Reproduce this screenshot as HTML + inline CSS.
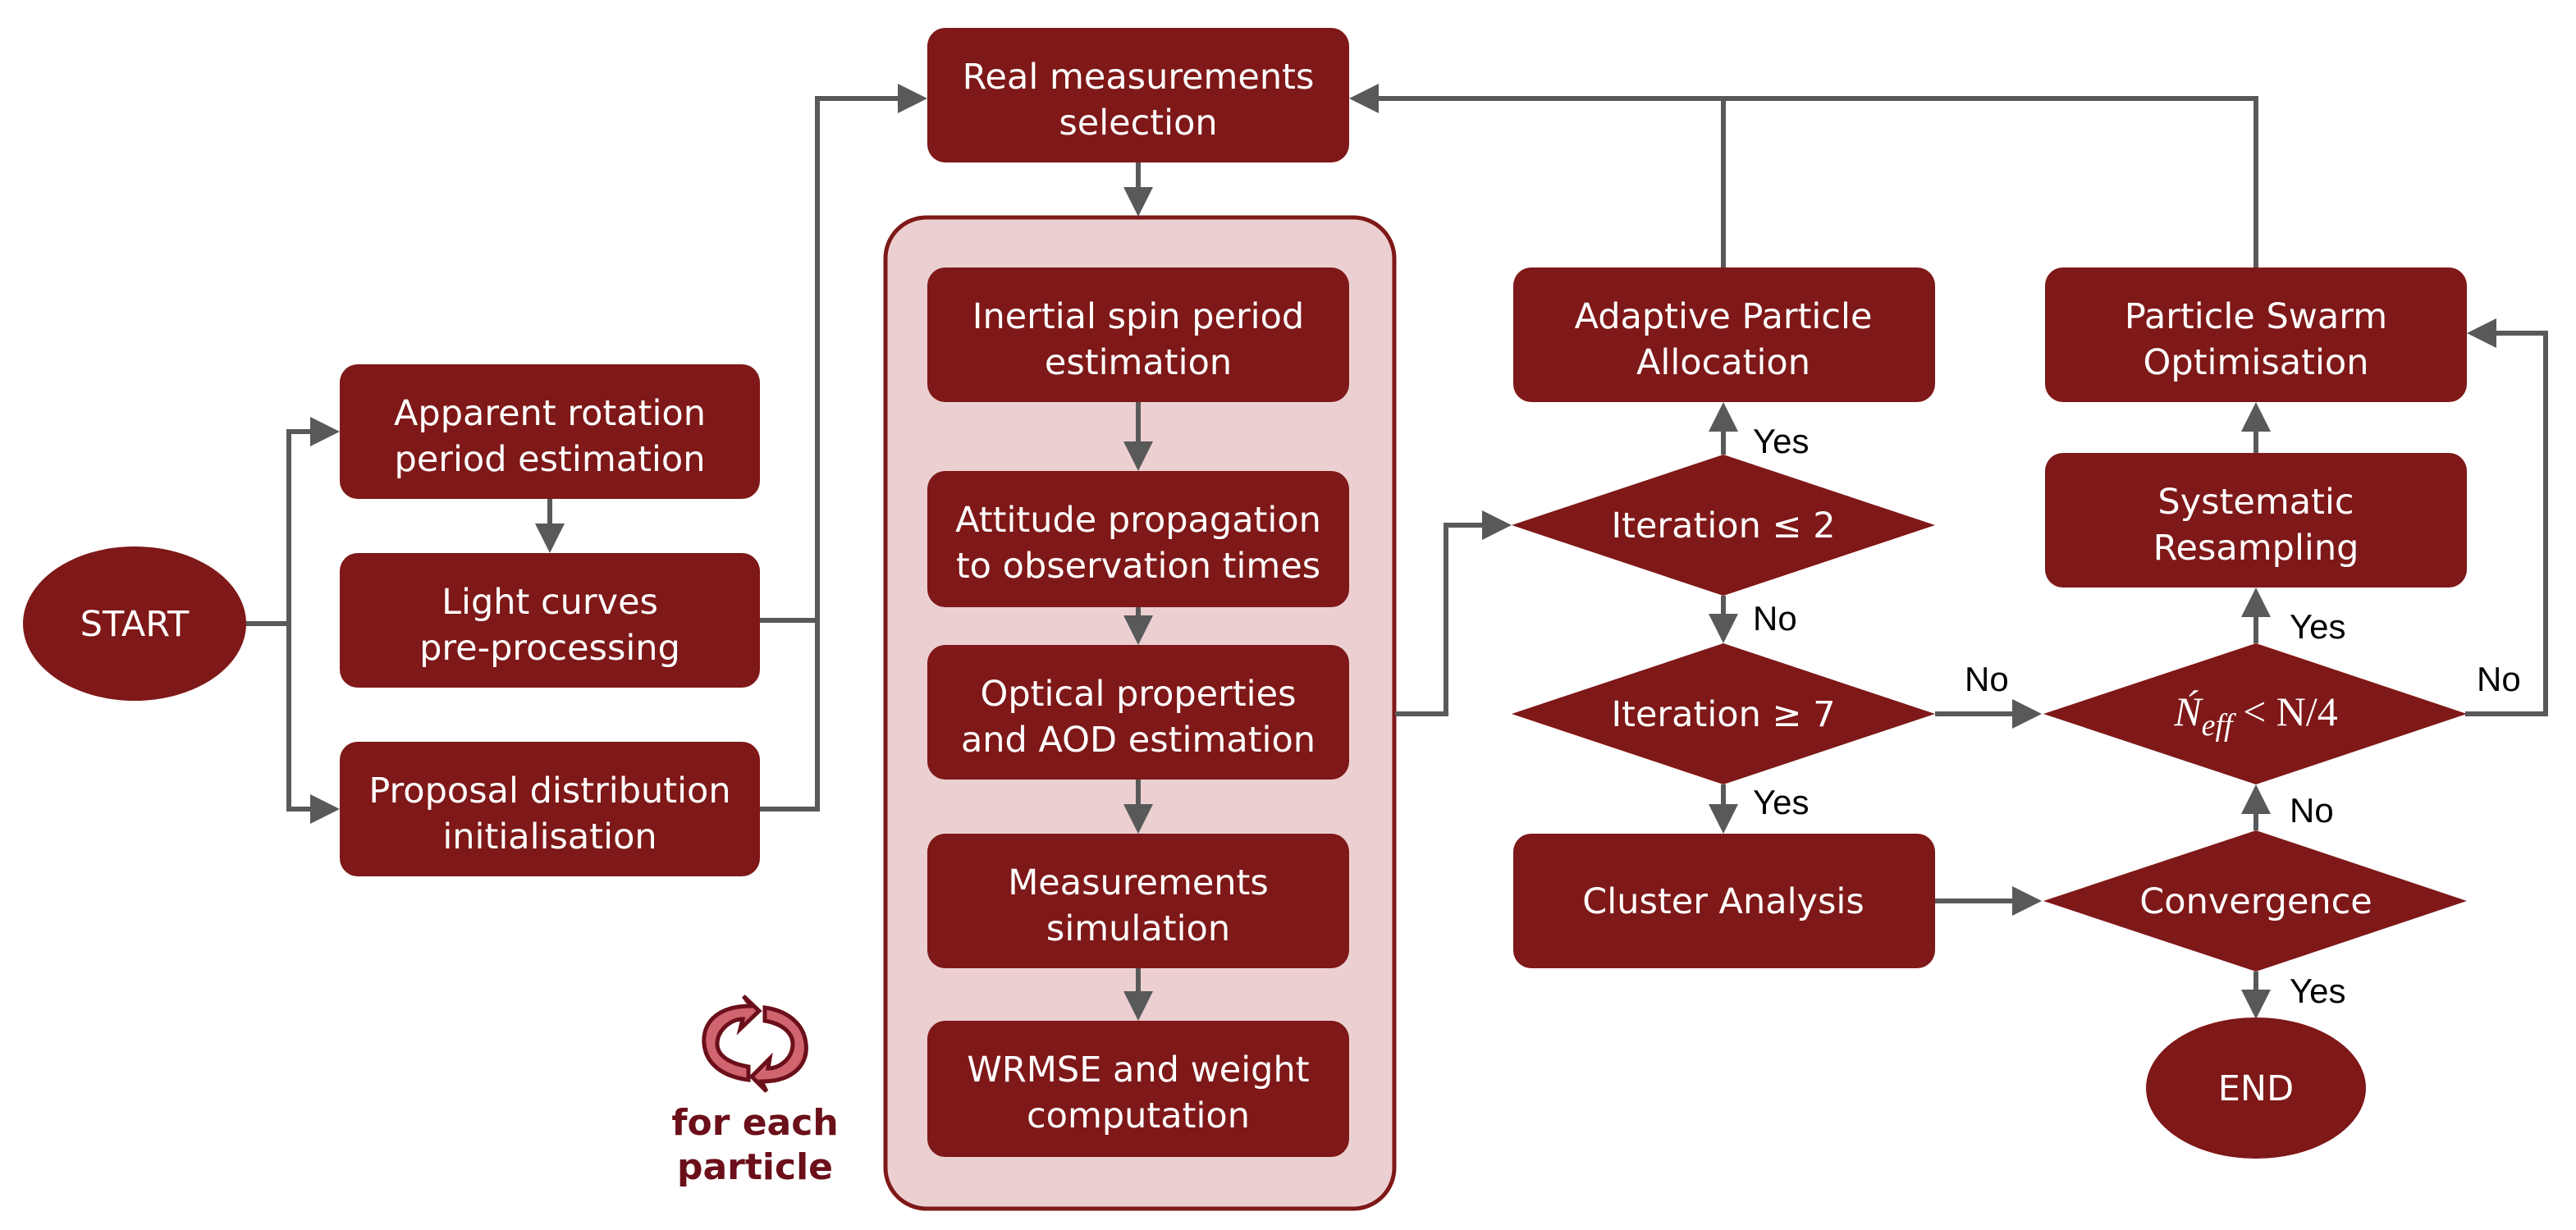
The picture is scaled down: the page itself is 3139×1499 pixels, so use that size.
<!DOCTYPE html>
<html><head><meta charset="utf-8"><style>
html,body{margin:0;padding:0;background:#fff;}
svg{display:block}
.b{fill:#7f1818}
.t{fill:#fff;font-family:"DejaVu Sans",sans-serif;font-size:43px;text-anchor:middle}
.l{fill:#000;font-family:"Liberation Sans",sans-serif;font-size:42px}
.c{stroke:#595959;stroke-width:6;fill:none}
</style></head><body>
<svg width="3139" height="1499" viewBox="0 0 3139 1499" xmlns="http://www.w3.org/2000/svg">
<defs>
<marker id="a" markerWidth="6" markerHeight="6" refX="5" refY="3" orient="auto" markerUnits="strokeWidth"><path d="M0,0 L6,3 L0,6 z" fill="#595959"/></marker>
</defs>
<rect x="1079" y="265" width="620" height="1208" rx="50" fill="#ecd0d1" stroke="#7f1818" stroke-width="5"/>
<path class="c" d="M300,760 H352 V526 H408" marker-end="url(#a)"/>
<path class="c" d="M352,760 V986 H408" marker-end="url(#a)"/>
<path class="c" d="M670,608 V668" marker-end="url(#a)"/>
<path class="c" d="M926,756 H996 V120 H1124" marker-end="url(#a)"/>
<path class="c" d="M926,986 H996 V756"/>
<path class="c" d="M1387,198 V258" marker-end="url(#a)"/>
<path class="c" d="M1387,490 V568" marker-end="url(#a)"/>
<path class="c" d="M1387,740 V780" marker-end="url(#a)"/>
<path class="c" d="M1387,950 V1010" marker-end="url(#a)"/>
<path class="c" d="M1387,1180 V1238" marker-end="url(#a)"/>
<path class="c" d="M1700,870 H1762 V640 H1836" marker-end="url(#a)"/>
<path class="c" d="M2100,326 V120 H1650" marker-end="url(#a)"/>
<path class="c" d="M2749,326 V120 H2100"/>
<path class="c" d="M2100,554 V496" marker-end="url(#a)"/>
<path class="c" d="M2100,726 V778" marker-end="url(#a)"/>
<path class="c" d="M2100,956 V1010" marker-end="url(#a)"/>
<path class="c" d="M2358,870 H2482" marker-end="url(#a)"/>
<path class="c" d="M2358,1098 H2482" marker-end="url(#a)"/>
<path class="c" d="M3004,870 H3102 V406 H3012" marker-end="url(#a)"/>
<path class="c" d="M2749,1012 V962" marker-end="url(#a)"/>
<path class="c" d="M2749,784 V722" marker-end="url(#a)"/>
<path class="c" d="M2749,552 V496" marker-end="url(#a)"/>
<path class="c" d="M2749,1184 V1236" marker-end="url(#a)"/>
<ellipse class="b" cx="164" cy="760" rx="136" ry="94"/>
<text class="t" x="164" y="775">START</text>
<rect class="b" x="414" y="444" width="512" height="164" rx="22"/>
<text class="t" x="670" y="518">Apparent rotation</text><text class="t" x="670" y="574">period estimation</text>
<rect class="b" x="414" y="674" width="512" height="164" rx="22"/>
<text class="t" x="670" y="748">Light curves</text><text class="t" x="670" y="804">pre-processing</text>
<rect class="b" x="414" y="904" width="512" height="164" rx="22"/>
<text class="t" x="670" y="978">Proposal distribution</text><text class="t" x="670" y="1034">initialisation</text>
<rect class="b" x="1130" y="34" width="514" height="164" rx="22"/>
<text class="t" x="1387" y="108">Real measurements</text><text class="t" x="1387" y="164">selection</text>
<rect class="b" x="1130" y="326" width="514" height="164" rx="22"/>
<text class="t" x="1387" y="400">Inertial spin period</text><text class="t" x="1387" y="456">estimation</text>
<rect class="b" x="1130" y="574" width="514" height="166" rx="22"/>
<text class="t" x="1387" y="648">Attitude propagation</text><text class="t" x="1387" y="704">to observation times</text>
<rect class="b" x="1130" y="786" width="514" height="164" rx="22"/>
<text class="t" x="1387" y="860">Optical properties</text><text class="t" x="1387" y="916">and AOD estimation</text>
<rect class="b" x="1130" y="1016" width="514" height="164" rx="22"/>
<text class="t" x="1387" y="1090">Measurements</text><text class="t" x="1387" y="1146">simulation</text>
<rect class="b" x="1130" y="1244" width="514" height="166" rx="22"/>
<text class="t" x="1387" y="1318">WRMSE and weight</text><text class="t" x="1387" y="1374">computation</text>
<rect class="b" x="1844" y="326" width="514" height="164" rx="22"/>
<text class="t" x="2100" y="400">Adaptive Particle</text><text class="t" x="2100" y="456">Allocation</text>
<polygon class="b" points="1842,640 2100,554 2358,640 2100,726"/>
<text class="t" x="2100" y="655">Iteration ≤ 2</text>
<polygon class="b" points="1842,870 2100,784 2358,870 2100,956"/>
<text class="t" x="2100" y="885">Iteration ≥ 7</text>
<rect class="b" x="1844" y="1016" width="514" height="164" rx="22"/>
<text class="t" x="2100" y="1113">Cluster Analysis</text>
<rect class="b" x="2492" y="326" width="514" height="164" rx="22"/>
<text class="t" x="2749" y="400">Particle Swarm</text><text class="t" x="2749" y="456">Optimisation</text>
<rect class="b" x="2492" y="552" width="514" height="164" rx="22"/>
<text class="t" x="2749" y="626">Systematic</text><text class="t" x="2749" y="682">Resampling</text>
<polygon class="b" points="2490,870 2749,784 3006,870 2749,956"/>
<text x="2749" y="884" fill="#fff" font-family="Liberation Serif,serif" font-size="50" text-anchor="middle"><tspan font-style="italic">Ń</tspan><tspan font-style="italic" font-size="38" dy="12">eff</tspan><tspan dy="-12"> &lt; N/4</tspan></text>
<polygon class="b" points="2490,1098 2749,1012 3006,1098 2749,1184"/>
<text class="t" x="2749" y="1113">Convergence</text>
<ellipse class="b" cx="2749" cy="1326" rx="134" ry="86"/>
<text class="t" x="2749" y="1341">END</text>
<text class="l" x="2136" y="552">Yes</text>
<text class="l" x="2136" y="768">No</text>
<text class="l" x="2136" y="992">Yes</text>
<text class="l" x="2394" y="842">No</text>
<text class="l" x="3018" y="842">No</text>
<text class="l" x="2790" y="778">Yes</text>
<text class="l" x="2790" y="1002">No</text>
<text class="l" x="2790" y="1222">Yes</text>
<g stroke="#6b0f1a" stroke-width="5" fill="#d0646f">
<path d="M915,1226 C870,1226 856,1250 858,1272 C860,1296 880,1312 912,1316 L912,1300 C888,1296 874,1286 874,1272 C874,1256 890,1242 905,1242 L902,1254 L925,1232 L906,1214 Z"/>
<path d="M928,1318 C970,1318 985,1294 982,1272 C980,1250 962,1232 932,1228 L932,1244 C955,1248 966,1260 966,1272 C966,1290 950,1302 936,1302 L938,1290 L916,1312 L934,1330 Z"/>
</g>
<text x="920" y="1383" fill="#6b0f1a" font-family="DejaVu Sans,sans-serif" font-weight="bold" font-size="44" text-anchor="middle">for each</text>
<text x="920" y="1437" fill="#6b0f1a" font-family="DejaVu Sans,sans-serif" font-weight="bold" font-size="44" text-anchor="middle">particle</text>
</svg>
</body></html>
